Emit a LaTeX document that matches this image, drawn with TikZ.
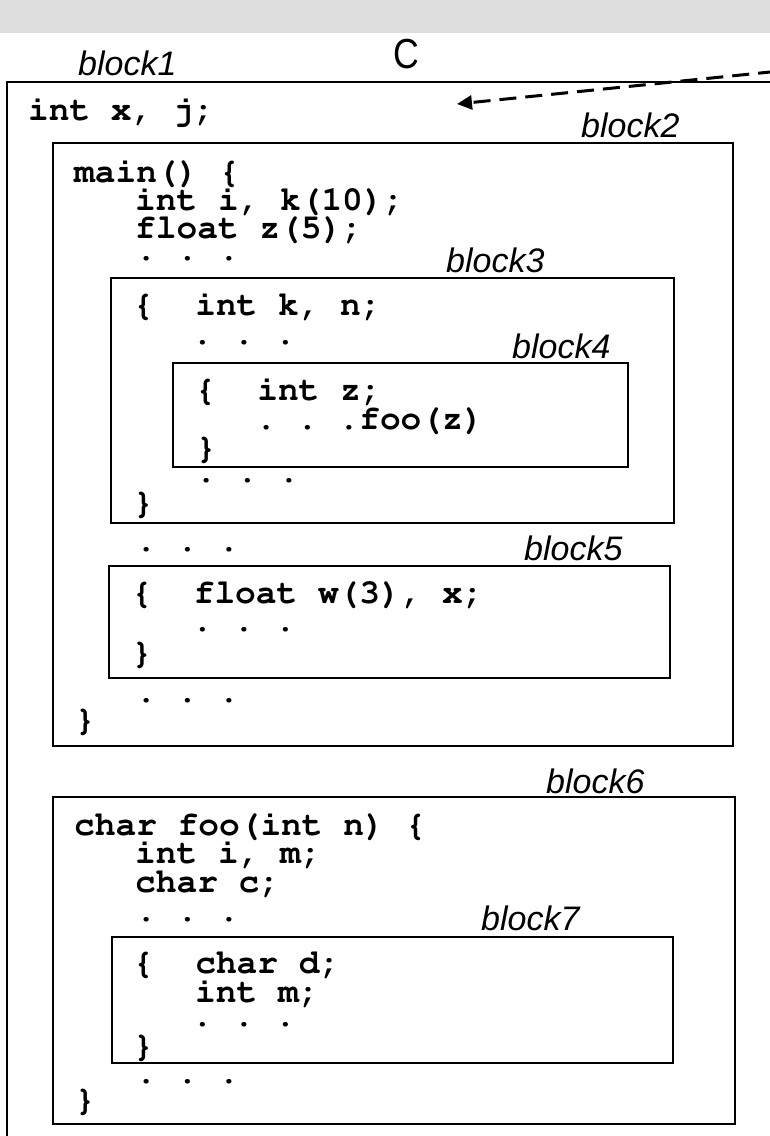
\documentclass[tikz,border=0pt]{standalone}
\usepackage{graphicx}
\usepackage[T1]{fontenc}
\usepackage{fontspec}
\newfontfamily\labelfont{Liberation Sans}
\newcommand\courbold{\fontencoding{T1}\fontfamily{pcr}\fontseries{b}\fontshape{n}\fontsize{34.5}{40}\selectfont\frenchspacing}
\usetikzlibrary{arrows.meta}
\definecolor{band}{HTML}{DDDDDD}
\tikzset{
  codeline/.style={anchor=base west, inner sep=0pt, font=\courbold},
  blocklabel/.style={anchor=base west, inner sep=0pt,
    font=\labelfont\itshape\fontsize{34}{40}\selectfont},
  blockbox/.style={draw=black, line width=2.7pt},
  ptr/.style={line width=3pt, dash pattern=on 17pt off 9pt,
    -{Triangle[length=15pt,width=14pt]}},
}
\begin{document}
\begin{tikzpicture}[x=1pt,y=-1pt]
\useasboundingbox (0,0) rectangle (770,1136);
\clip (0,0) rectangle (770,1136);

% header band and language name
\fill[band] (0,0) rectangle (770,33);
\node[anchor=base, inner sep=0pt, font=\labelfont\fontsize{42}{42}\selectfont]
  (lang) at (406,68) {\scalebox{0.85}[1]{C}};

% nested blocks
\draw[blockbox] (7,82) rectangle (800,1160);
\draw[blockbox] (53,143) rectangle (733,746);
\draw[blockbox] (111,278) rectangle (674,523);
\draw[blockbox] (173,363) rectangle (628,467);
\draw[blockbox] (109,566) rectangle (670,678);
\draw[blockbox] (53,797) rectangle (735,1124);
\draw[blockbox] (112,937) rectangle (673,1063);

% block names
\node[blocklabel] (lb1) at (78,75) {block1};
\node[blocklabel] (lb2) at (581,137) {block2};
\node[blocklabel] (lb3) at (446,272) {block3};
\node[blocklabel] (lb4) at (512,358) {block4};
\node[blocklabel] (lb5) at (524,560) {block5};
\node[blocklabel] (lb6) at (546,793) {block6};
\node[blocklabel] (lb7) at (481,930) {block7};

% source text
\node[codeline] (c1) at (28,120) {int x, j;};
\node[codeline] (c2) at (74,182) {main() \{};
\node[codeline] (c3) at (135,210) {int i, k(10);};
\node[codeline] (c4) at (135,238) {float z(5);};
\node[codeline] (c5) at (135.6,260) {. . .};
\node[codeline] (c6) at (133,315) {\{\ \ int k, n;};
\node[codeline] (c7) at (192,344) {. . .};
\node[codeline] (c8) at (195,400) {\{\ \ int z;};
\node[codeline] (c9) at (255.6,429) {. . .foo(z)};
\node[codeline] (c10) at (195.6,458) {\}};
\node[codeline] (c11) at (195.6,482) {. . .};
\node[codeline] (c12) at (133,513) {\}};
\node[codeline] (c13) at (135.6,551) {. . .};
\node[codeline] (c14) at (131.5,603) {\{\ \ float w(3), x;};
\node[codeline] (c15) at (192,631) {. . .};
\node[codeline] (c16) at (131.5,663) {\}};
\node[codeline] (c17) at (135.6,702) {. . .};
\node[codeline] (c18) at (74.6,730) {\}};
\node[codeline] (c19) at (74,835) {char foo(int n) \{};
\node[codeline] (c20) at (135,863) {int i, m;};
\node[codeline] (c21) at (135,892) {char c;};
\node[codeline] (c22) at (135.6,921) {. . .};
\node[codeline] (c23) at (133,973) {\{\ \ char d;};
\node[codeline] (c24) at (195,1002) {int m;};
\node[codeline] (c25) at (192,1026) {. . .};
\node[codeline] (c26) at (133,1056) {\}};
\node[codeline] (c27) at (135.6,1083) {. . .};
\node[codeline] (c28) at (74.6,1110) {\}};

% dashed pointer into the outermost block
\coordinate (ptrsrc) at (775,71.5);
\coordinate (ptrtip) at (457,104);
\draw[ptr] (ptrsrc) -- (ptrtip);
\end{tikzpicture}
\end{document}
